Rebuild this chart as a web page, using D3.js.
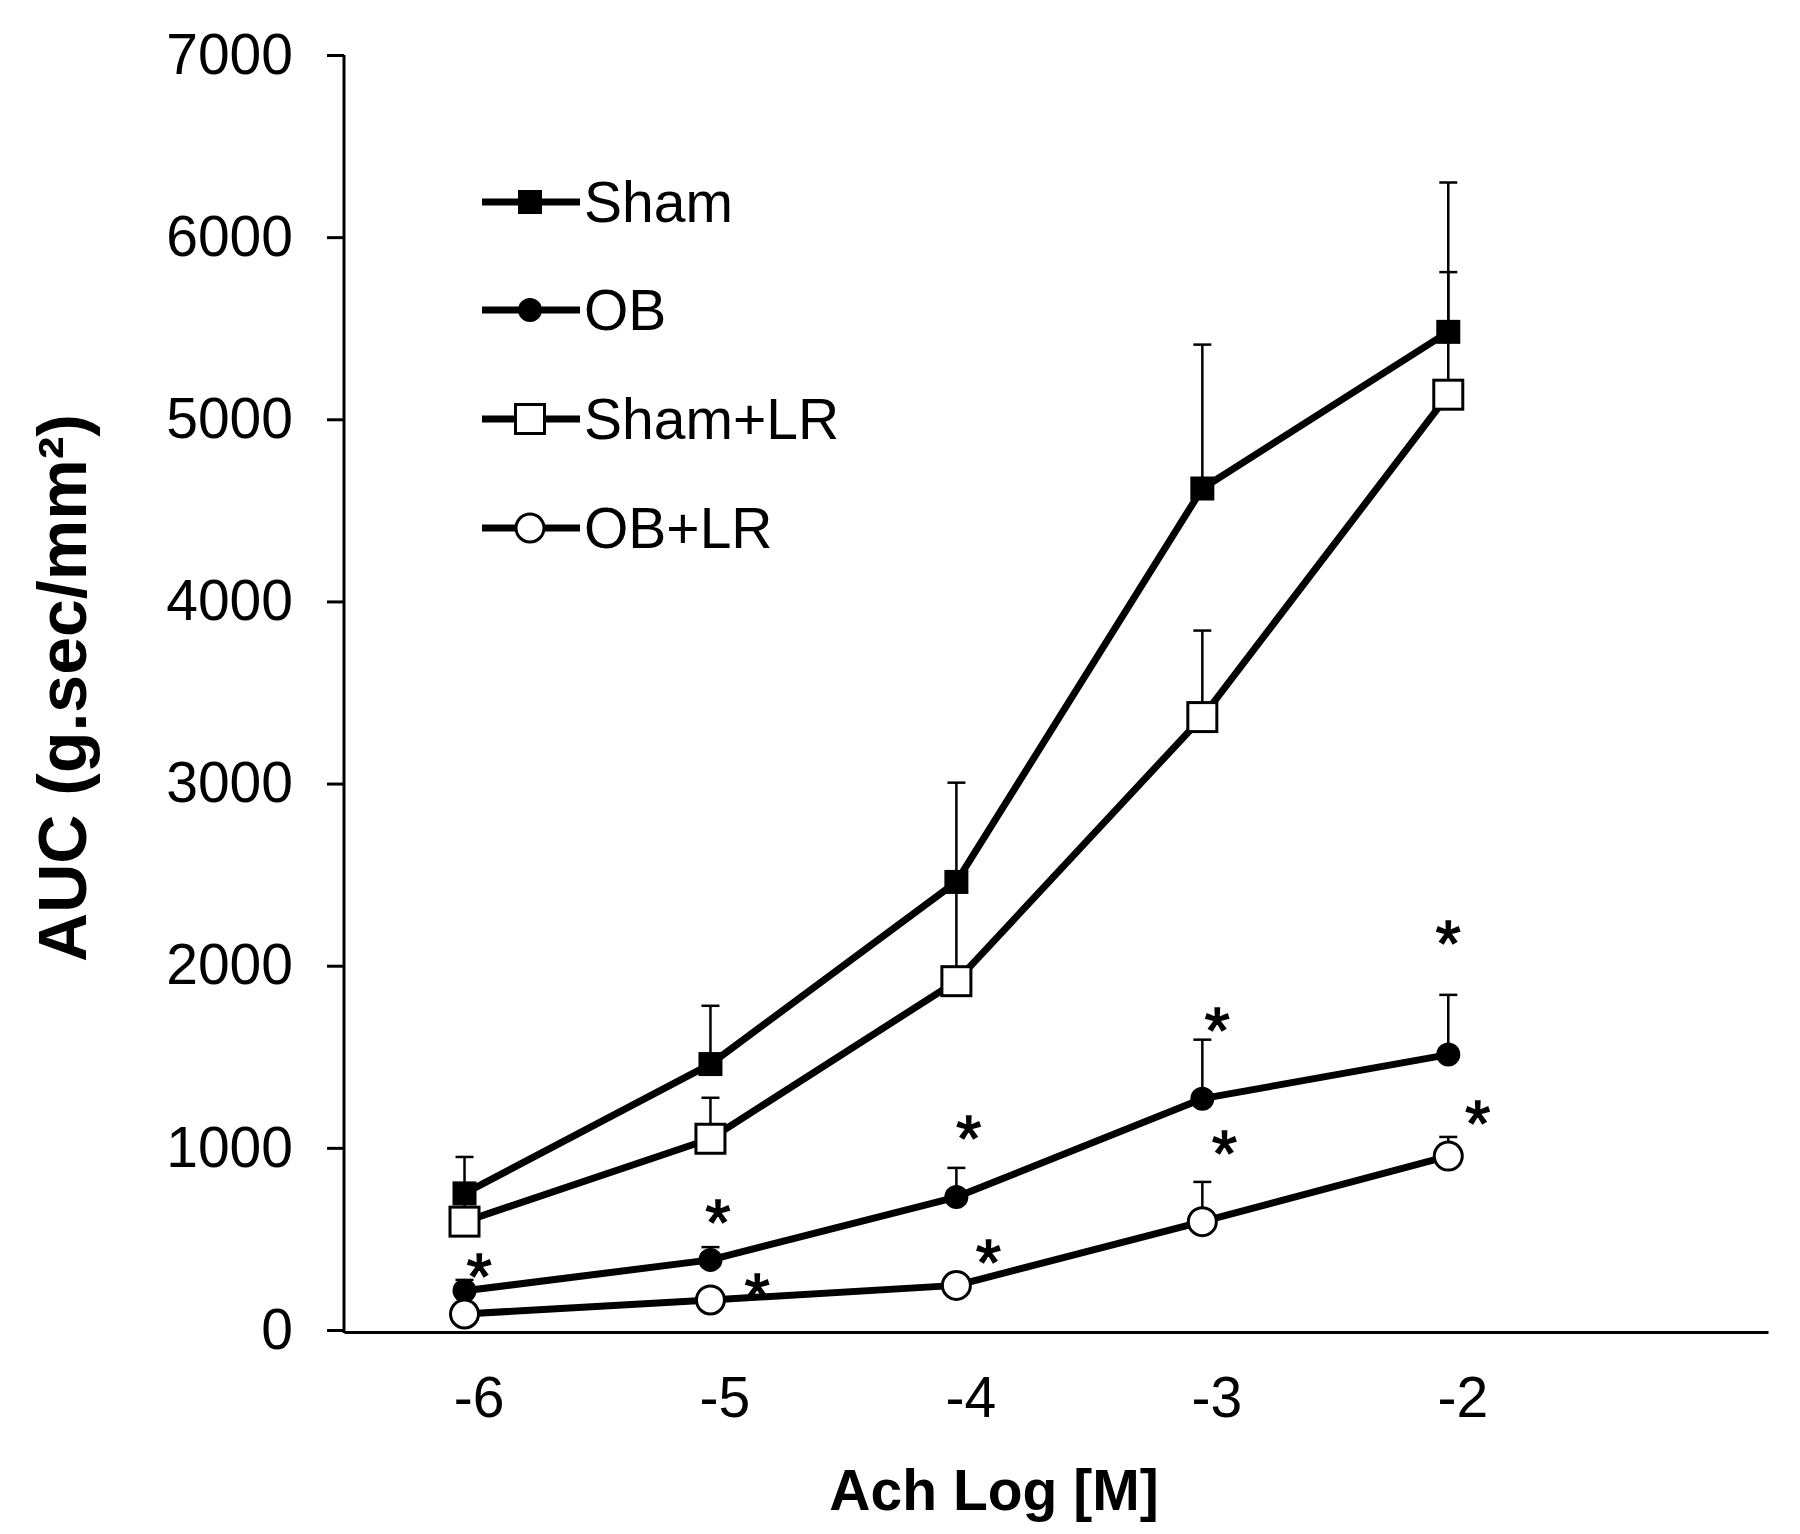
<!DOCTYPE html>
<html>
<head>
<meta charset="utf-8">
<script src="https://cdn.jsdelivr.net/npm/d3@7"></script>
<style>
  body { margin: 0; background: #fff; }
  text { font-family: "Liberation Sans", Arial, sans-serif; fill: #000; }
</style>
</head>
<body>
<script>
// data
const doses = [-6, -5, -4, -3, -2];
const sham = [750, 1460, 2460, 4620, 5480];
const shamErr = [200, 320, 545, 790, 820];
const ob = [215, 385, 730, 1270, 1512];
const obErr = [60, 70, 160, 324, 328];
const shamLR = [595, 1050, 1915, 3365, 5135];
const shamLRErr = [150, 225, 545, 475, 673];
const obLR = [88, 165, 245, 595, 955];
const obLRErr = [0, 30, 40, 218, 105];

// significance stars (x in log units, y in AUC units)
const obStarX = [-5.94, -4.97, -3.95, -2.94, -2.0];
const obStarY = [368, 665, 1126, 1720, 2198];
const obLRStarX = [-4.81, -3.87, -2.91, -1.88];
const obLRStarY = [258, 445, 1044, 1209];

const yTicks = [0, 1000, 2000, 3000, 4000, 5000, 6000, 7000];
const seriesNames = ["Sham", "OB", "Sham+LR", "OB+LR"];

const width = 1800, height = 1534;
const svg = d3.select("body").append("svg")
    .attr("width", width)
    .attr("height", height);

const x = d3.scaleLinear().domain([-6.49, -0.7]).range([344, 1768]);
const y = d3.scaleLinear().domain([0, 7000]).range([1330, 55]);

// y axis
const yAxis = svg.append("g")
    .attr("transform", "translate(344,0)")
    .call(d3.axisLeft(y).tickValues(yTicks).tickSize(17).tickPadding(34).tickFormat(d => String(d)));
yAxis.select(".domain").attr("d", `M0,${y(7000)}V${y(0) + 3}`).attr("stroke-width", 3);
yAxis.selectAll(".tick line").attr("stroke-width", 3);
yAxis.selectAll(".tick text").style("font-size", "57px").attr("fill", "#000");

// x axis
const xAxis = svg.append("g")
    .attr("transform", `translate(0,${y(0) + 2})`)
    .call(d3.axisBottom(x).tickValues(doses).tickSize(0).tickPadding(45).tickFormat(d => String(d)));
xAxis.select(".domain").attr("stroke-width", 3);
xAxis.selectAll(".tick text").style("font-size", "57px").attr("fill", "#000").attr("dx", 14);

// axis titles
svg.append("text")
    .attr("x", 994).attr("y", 1510)
    .attr("text-anchor", "middle")
    .style("font-size", "57px").style("font-weight", "bold")
    .text("Ach Log [M]");

svg.append("text")
    .attr("transform", "translate(86,688) rotate(-90)")
    .attr("text-anchor", "middle")
    .style("font-size", "68px").style("font-weight", "bold")
    .text("AUC (g.sec/mm²)");

const line = d3.line()
    .x((d, i) => x(doses[i]))
    .y(d => y(d));

const series = [
  { name: seriesNames[0], vals: sham, err: shamErr, shape: "square", fill: "#000" },
  { name: seriesNames[1], vals: ob, err: obErr, shape: "circle", fill: "#000" },
  { name: seriesNames[2], vals: shamLR, err: shamLRErr, shape: "square", fill: "#fff" },
  { name: seriesNames[3], vals: obLR, err: obLRErr, shape: "circle", fill: "#fff" }
];

function marker(g, shape, fill, cx, cy) {
  if (shape === "square") {
    const s = fill === "#000" ? 24 : 29;
    g.append("rect")
      .attr("x", cx - s / 2).attr("y", cy - s / 2)
      .attr("width", s).attr("height", s)
      .attr("fill", fill).attr("stroke", "#000")
      .attr("stroke-width", fill === "#000" ? 0 : 3);
  } else {
    g.append("circle")
      .attr("cx", cx).attr("cy", cy)
      .attr("r", fill === "#000" ? 12 : 14)
      .attr("fill", fill).attr("stroke", "#000")
      .attr("stroke-width", fill === "#000" ? 0 : 3);
  }
}

series.forEach(s => {
  const g = svg.append("g");
  // upper error bars only
  s.vals.forEach((v, i) => {
    if (s.err[i] <= 0) return;
    const cx = x(doses[i]);
    g.append("line")
      .attr("x1", cx).attr("x2", cx)
      .attr("y1", y(v)).attr("y2", y(v + s.err[i]))
      .attr("stroke", "#000").attr("stroke-width", 2.5);
    g.append("line")
      .attr("x1", cx - 9).attr("x2", cx + 9)
      .attr("y1", y(v + s.err[i])).attr("y2", y(v + s.err[i]))
      .attr("stroke", "#000").attr("stroke-width", 2.5);
  });
  g.append("path")
    .attr("d", line(s.vals))
    .attr("fill", "none")
    .attr("stroke", "#000")
    .attr("stroke-width", 7)
    .attr("stroke-linejoin", "round");
  s.vals.forEach((v, i) => marker(g, s.shape, s.fill, x(doses[i]), y(v)));
});

// stars
function stars(xs, ys) {
  xs.forEach((sx, i) => {
    svg.append("text")
      .attr("x", x(sx)).attr("y", y(ys[i]) + 36)
      .attr("text-anchor", "middle")
      .style("font-size", "64px")
      .attr("stroke", "#000").attr("stroke-width", 1.5)
      .text("*");
  });
}
stars(obStarX, obStarY);
stars(obLRStarX, obLRStarY);

// legend
const legY = [202, 310, 419, 528];
series.forEach((s, i) => {
  const g = svg.append("g");
  g.append("line")
    .attr("x1", 482).attr("x2", 580)
    .attr("y1", legY[i]).attr("y2", legY[i])
    .attr("stroke", "#000").attr("stroke-width", 7);
  marker(g, s.shape, s.fill, 530, legY[i]);
  g.append("text")
    .attr("x", 584).attr("y", legY[i])
    .attr("dy", "0.35em")
    .style("font-size", "57px")
    .text(s.name);
});
</script>
</body>
</html>
